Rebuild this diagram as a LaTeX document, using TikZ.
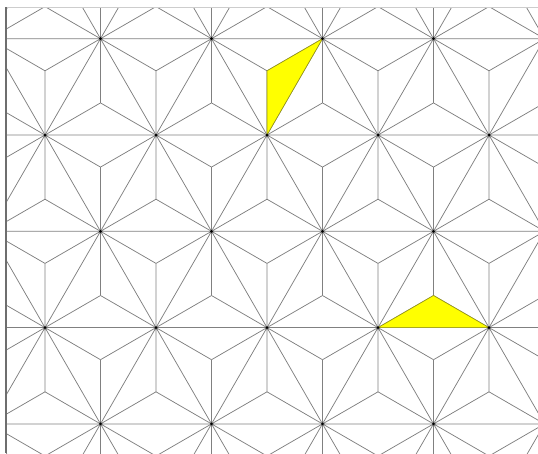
\documentclass[tikz,border=0pt]{standalone}
\usepackage{xcolor}
\usepackage{tikz}
\usetikzlibrary{calc}
\definecolor{hpgray}{RGB}{128,128,128}
\definecolor{hpframe}{RGB}{110,110,110}
\definecolor{hplight}{RGB}{205,205,205}
\definecolor{hpyellow}{RGB}{255,255,0}
\definecolor{hpolive}{RGB}{150,150,20}
\tikzset{
  hempline/.style={draw=hpgray, line width=0.75pt},
  latdot/.style={fill=black},
  leaf/.style={fill=hpyellow, draw=hpolive, line width=0.6pt, line join=round},
  frametop/.style={draw=hplight, line width=1pt},
  frameleft/.style={draw=hpframe, line width=1.1pt}
}

\begin{document}
\begin{tikzpicture}[x=1pt,y=-1pt]
\useasboundingbox (0,0) rectangle (538,453);
\begin{scope}
\clip (6,7) rectangle (538,453);
\foreach \j in {0,...,6}{
  \foreach \i in {-1,...,5}{
    \pgfmathsetmacro{\px}{45+111*\i+55.5*mod(\j,2)}
    \pgfmathsetmacro{\py}{135+96.3*(\j-2)}
    \draw[hempline] (\px,\py) -- ++(111,0)
      (\px,\py) -- ++(55.5,96.3) (\px,\py) -- ++(-55.5,96.3)
      (\px,\py) -- ++(0,64.2) (\px,\py) -- ++(0,-64.2)
      (\px,\py) -- ++(55.5,32.1) (\px,\py) -- ++(-55.5,32.1)
      (\px,\py) -- ++(55.5,-32.1) (\px,\py) -- ++(-55.5,-32.1);
  }
}
\coordinate (ta) at (267,135);
\coordinate (tb) at (322.5,38.7);
\coordinate (tc) at (267,70.8);
\coordinate (ua) at (378,327.6);
\coordinate (ub) at (489,327.6);
\coordinate (uc) at (433.5,295.5);
\draw[leaf] (ta) -- (tb) -- (tc) -- cycle;
\draw[leaf] (ua) -- (ub) -- (uc) -- cycle;
\foreach \j in {0,...,6}{
  \foreach \i in {-1,...,5}{
    \pgfmathsetmacro{\px}{45+111*\i+55.5*mod(\j,2)}
    \pgfmathsetmacro{\py}{135+96.3*(\j-2)}
    \fill[latdot] (\px,\py) circle (1.5pt);
  }
}
\end{scope}
\draw[frametop] (6,7) -- (538,7);
\draw[frameleft] (6,7) -- (6,453);
\end{tikzpicture}
\end{document}
